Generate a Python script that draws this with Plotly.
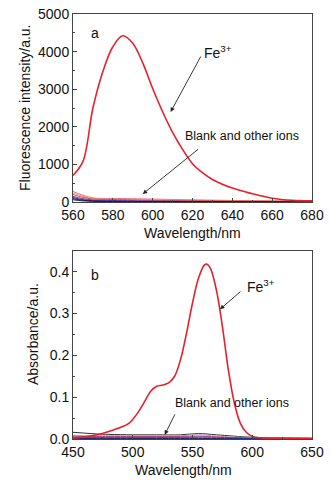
import plotly.graph_objects as go

# ---------- Panel a: fluorescence ----------
wl_a = [560, 565, 570, 575, 580, 585, 590, 595, 600, 605, 610, 615, 620, 625, 630, 640, 650, 660, 670, 680]
fe_a = [708, 1080, 2500, 3470, 4130, 4420, 4220, 3700, 3020, 2400, 1850, 1400, 1020, 780, 600, 370, 220, 100, 45, 30]

wl_a_blank = [560, 565, 570, 575, 580, 590, 600, 620, 640, 660, 680]
blank_a = [
    [280, 180, 110, 95, 95, 88, 78, 58, 42, 30, 25],
    [240, 150, 92, 78, 74, 62, 56, 42, 30, 22, 18],
    [200, 122, 80, 70, 66, 56, 46, 35, 25, 20, 15],
    [150, 90, 55, 45, 40, 35, 30, 20, 15, 10, 8],
    [120, 62, 36, 30, 25, 20, 15, 10, 8, 5, 5],
    [90, 46, 26, 20, 18, 15, 10, 8, 5, 3, 3],
    [60, 30, 20, 15, 12, 10, 8, 5, 3, 2, 2],
]
blank_a_colors = ["#f07070", "#f0a060", "#e05050", "#8040a0", "#3030c0", "#101080", "#202020"]

# ---------- Panel b: absorbance ----------
wl_b = [450, 460, 470, 480, 490, 497, 505, 510, 515, 520, 525, 530, 535, 540, 545, 550, 555, 560, 562,
        565, 570, 575, 580, 585, 590, 595, 600, 610, 620, 650]
fe_b = [0.002, 0.005, 0.010, 0.018, 0.028, 0.038, 0.066, 0.090, 0.114, 0.126, 0.129, 0.134, 0.150, 0.190,
        0.253, 0.325, 0.384, 0.416, 0.418, 0.408, 0.356, 0.269, 0.165, 0.086, 0.038, 0.016, 0.006, 0.002,
        0.001, 0.001]

wl_b_blank = [450, 460, 470, 480, 500, 520, 540, 555, 570, 600, 625, 650]
blank_b = [
    [0.016, 0.014, 0.012, 0.011, 0.010, 0.010, 0.010, 0.013, 0.010, 0.004, 0.003, 0.002],
    [0.009, 0.008, 0.008, 0.008, 0.008, 0.008, 0.008, 0.010, 0.007, 0.003, 0.002, 0.001],
    [0.007, 0.006, 0.006, 0.006, 0.006, 0.006, 0.006, 0.007, 0.005, 0.002, 0.001, 0.001],
    [0.005, 0.004, 0.004, 0.004, 0.004, 0.004, 0.004, 0.005, 0.004, 0.002, 0.001, 0.001],
    [0.003, 0.003, 0.003, 0.003, 0.003, 0.003, 0.003, 0.003, 0.002, 0.001, 0.001, 0.001],
    [0.001, 0.001, 0.001, 0.001, 0.001, 0.001, 0.001, 0.001, 0.001, 0.000, 0.000, 0.000],
]
blank_b_colors = ["#303030", "#c8a0b0", "#c04070", "#8040a0", "#3050c0", "#102060"]

x_ticks_a = [560, 580, 600, 620, 640, 660, 680]
y_ticks_a = [0, 1000, 2000, 3000, 4000, 5000]
x_ticks_b = [450, 500, 550, 600, 650]
y_ticks_b = [0.0, 0.1, 0.2, 0.3, 0.4]

RED = "#e8202c"
FONT = "Liberation Sans, Arial, sans-serif"

fig = go.Figure()
for vals, c in zip(blank_a, blank_a_colors):
    fig.add_trace(go.Scatter(x=wl_a_blank, y=vals, mode="lines", line=dict(color=c, width=1, shape="spline"),
                             xaxis="x", yaxis="y", showlegend=False))
fig.add_trace(go.Scatter(x=wl_a, y=fe_a, mode="lines", line=dict(color=RED, width=1.6, shape="spline"),
                         xaxis="x", yaxis="y", showlegend=False))
for vals, c in zip(blank_b, blank_b_colors):
    fig.add_trace(go.Scatter(x=wl_b_blank, y=vals, mode="lines", line=dict(color=c, width=1, shape="spline"),
                             xaxis="x2", yaxis="y2", showlegend=False))
fig.add_trace(go.Scatter(x=wl_b, y=fe_b, mode="lines", line=dict(color=RED, width=1.6, shape="spline"),
                         xaxis="x2", yaxis="y2", showlegend=False))

axis_common = dict(showline=True, linecolor="#444", linewidth=1, mirror=True, ticks="inside",
                   ticklen=4, tickcolor="#444", showgrid=False, zeroline=False, automargin=False,
                   tickfont=dict(size=14, color="#111", family=FONT))

fig.update_layout(
    width=330, height=483,
    margin=dict(l=73, r=18, t=14, b=44),
    paper_bgcolor="white", plot_bgcolor="white",
    font=dict(family=FONT, color="#111"),
    xaxis=dict(axis_common, domain=[0, 1], range=[560, 680], tickvals=x_ticks_a, anchor="y",
               minor=dict(ticks="inside", ticklen=2, dtick=10, tick0=560, tickcolor="#444")),
    yaxis=dict(axis_common, domain=[0.5576, 1], range=[0, 5000], tickvals=y_ticks_a, anchor="x",
               minor=dict(ticks="inside", ticklen=2, dtick=500, tick0=0, tickcolor="#444")),
    xaxis2=dict(axis_common, domain=[0, 1], range=[450, 650], tickvals=x_ticks_b, anchor="y2",
                minor=dict(ticks="inside", ticklen=2, dtick=25, tick0=450, tickcolor="#444")),
    yaxis2=dict(axis_common, domain=[0, 0.443], range=[0, 0.45], tickvals=y_ticks_b, tickformat=".1f",
                anchor="x2",
                minor=dict(ticks="inside", ticklen=2, dtick=0.05, tick0=0, tickcolor="#444")),
)

ann_font = dict(family=FONT, color="#111")
# axis titles
fig.add_annotation(text="Wavelength/nm", xref="paper", yref="paper", x=0.498, y=0.4847,
                   showarrow=False, font=dict(ann_font, size=14), xanchor="center", yanchor="middle")
fig.add_annotation(text="Wavelength/nm", xref="paper", yref="paper", x=0.464, y=-0.0729,
                   showarrow=False, font=dict(ann_font, size=14), xanchor="center", yanchor="middle")
fig.add_annotation(text="Fluorescence intensity/a.u.", xref="paper", yref="paper", x=-0.2008, y=0.7788,
                   textangle=-90, showarrow=False, font=dict(ann_font, size=14),
                   xanchor="center", yanchor="middle")
fig.add_annotation(text="Absorbance/a.u.", xref="paper", yref="paper", x=-0.167, y=0.247,
                   textangle=-90, showarrow=False, font=dict(ann_font, size=14),
                   xanchor="center", yanchor="middle")
# panel labels
fig.add_annotation(text="a", xref="x", yref="y", x=571, y=4500, showarrow=False,
                   font=dict(ann_font, size=14))
fig.add_annotation(text="b", xref="x2", yref="y2", x=468.5, y=0.393, showarrow=False,
                   font=dict(ann_font, size=14))
# Fe3+ labels
fig.add_annotation(text="Fe<sup>3+</sup>", xref="x", yref="y", x=633, y=4000, showarrow=False,
                   font=dict(ann_font, size=14))
fig.add_annotation(text="Fe<sup>3+</sup>", xref="x2", yref="y2", x=607, y=0.366, showarrow=False,
                   font=dict(ann_font, size=14))
# Blank labels
fig.add_annotation(text="Blank and other ions", xref="x", yref="y", x=645, y=1750, showarrow=False,
                   font=dict(ann_font, size=12.5))
fig.add_annotation(text="Blank and other ions", xref="x2", yref="y2", x=583, y=0.086, showarrow=False,
                   font=dict(ann_font, size=12.5))
# arrows
arrow = dict(showarrow=True, arrowhead=2, arrowsize=1, arrowwidth=0.9, arrowcolor="#222", text="")
fig.add_annotation(arrow, xref="x", yref="y", x=609, y=2394, ax=31, ay=-57)
fig.add_annotation(arrow, xref="x", yref="y", x=595, y=213, ax=57, ay=-46)
fig.add_annotation(arrow, xref="x2", yref="y2", x=573, y=0.31, ax=22, ay=-19)
fig.add_annotation(arrow, xref="x2", yref="y2", x=526.7, y=0.010, ax=11, ay=-22)

fig.write_html("out.html", config={"displayModeBar": False},
               post_script="document.body.style.margin='0';document.body.style.padding='0';")
